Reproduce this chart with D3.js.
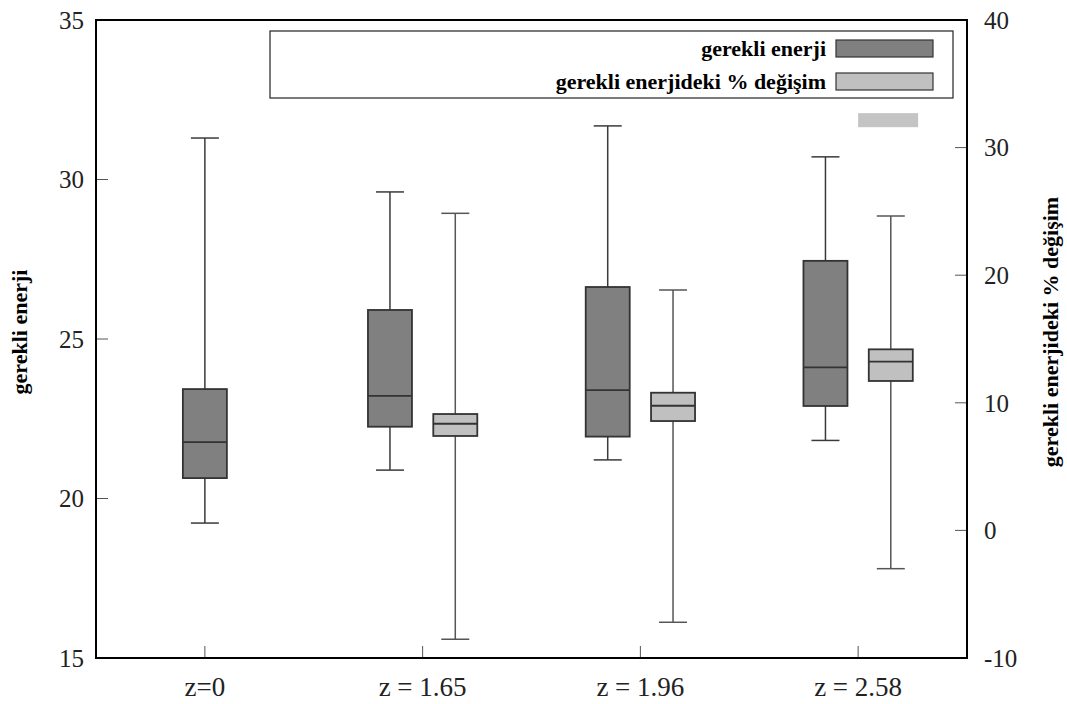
<!DOCTYPE html>
<html>
<head>
<meta charset="utf-8">
<script src="https://cdn.jsdelivr.net/npm/d3@7/dist/d3.min.js"></script>
<style>
  body { margin: 0; background: #fff; }
  svg text { font-family: "Liberation Serif", "Times New Roman", serif; }
</style>
</head>
<body>
<div id="chart"></div>
<script>
// categories on the x axis
const categories = ['z=0', 'z = 1.65', 'z = 1.96', 'z = 2.58'];

// "gerekli enerji" (left axis)
const energyLow    = [19.23, 20.89, 21.21, 21.82];
const energyQ1     = [20.64, 22.25, 21.94, 22.90];
const energyMedian = [21.77, 23.22, 23.40, 24.11];
const energyQ3     = [23.43, 25.91, 26.63, 27.45];
const energyHigh   = [31.30, 29.61, 31.68, 30.71];

// "gerekli enerjideki % değişim" (right axis), none for z=0
const changeLow    = [null, -8.53, -7.20, -3.00];
const changeQ1     = [null,  7.40,  8.57, 11.71];
const changeMedian = [null,  8.36,  9.77, 13.22];
const changeQ3     = [null,  9.12, 10.79, 14.19];
const changeHigh   = [null, 24.85, 18.84, 24.64];

// tick labels
const leftTicks  = [15, 20, 25, 30, 35];
const rightTicks = [-10, 0, 10, 20, 30, 40];

// stray light swatch seen under the legend (right axis units)
const strayMark = { cat: 'z = 2.58', top: 32.7, bottom: 31.6 };

const width = 1067, height = 704;
const margin = { top: 20, right: 100, bottom: 46, left: 96 };

const svg = d3.select('#chart')
    .append('svg')
    .attr('width', width)
    .attr('height', height);

const x = d3.scaleBand()
    .domain(categories)
    .range([margin.left, width - margin.right])
    .padding(0);

const yLeft = d3.scaleLinear()
    .domain([15, 35])
    .range([height - margin.bottom, margin.top]);

const yRight = d3.scaleLinear()
    .domain([-10, 40])
    .range([height - margin.bottom, margin.top]);

const center = c => x(c) + x.bandwidth() / 2;
const offset = x.bandwidth() * 0.15;
const boxW = 44, capW = 28;

// build box stats from the arrays
const energy = categories.map((c, i) => ({
    cat: c, low: energyLow[i], q1: energyQ1[i], med: energyMedian[i],
    q3: energyQ3[i], high: energyHigh[i]
}));
const change = categories.map((c, i) => ({
    cat: c, low: changeLow[i], q1: changeQ1[i], med: changeMedian[i],
    q3: changeQ3[i], high: changeHigh[i]
})).filter(d => d.med !== null);

function drawBoxes(data, y, cx, fill, stroke) {
    const g = svg.append('g');
    const b = g.selectAll('g').data(data).enter().append('g');

    b.append('line')
        .attr('x1', d => cx(d)).attr('x2', d => cx(d))
        .attr('y1', d => y(d.high)).attr('y2', d => y(d.q3))
        .style('stroke', stroke).style('stroke-width', 1.5);
    b.append('line')
        .attr('x1', d => cx(d)).attr('x2', d => cx(d))
        .attr('y1', d => y(d.q1)).attr('y2', d => y(d.low))
        .style('stroke', stroke).style('stroke-width', 1.5);
    ['high', 'low'].forEach(k => {
        b.append('line')
            .attr('x1', d => cx(d) - capW / 2).attr('x2', d => cx(d) + capW / 2)
            .attr('y1', d => y(d[k])).attr('y2', d => y(d[k]))
            .style('stroke', stroke).style('stroke-width', 1.5);
    });
    b.append('rect')
        .attr('x', d => cx(d) - boxW / 2)
        .attr('y', d => y(d.q3))
        .attr('width', boxW)
        .attr('height', d => y(d.q1) - y(d.q3))
        .style('fill', fill)
        .style('stroke', '#333')
        .style('stroke-width', 1.8);
    b.append('line')
        .attr('x1', d => cx(d) - boxW / 2).attr('x2', d => cx(d) + boxW / 2)
        .attr('y1', d => y(d.med)).attr('y2', d => y(d.med))
        .style('stroke', '#333').style('stroke-width', 1.8);
}

// x ticks (inside, from the bottom)
svg.append('g').selectAll('line').data(categories).enter().append('line')
    .attr('x1', d => center(d)).attr('x2', d => center(d))
    .attr('y1', height - margin.bottom).attr('y2', height - margin.bottom - 12)
    .style('stroke', '#555').style('stroke-width', 1);

// left ticks
svg.append('g').selectAll('line').data(leftTicks).enter().append('line')
    .attr('x1', margin.left).attr('x2', margin.left + 12)
    .attr('y1', d => yLeft(d)).attr('y2', d => yLeft(d))
    .style('stroke', '#555').style('stroke-width', 1);

// right ticks
svg.append('g').selectAll('line').data(rightTicks).enter().append('line')
    .attr('x1', width - margin.right - 12).attr('x2', width - margin.right)
    .attr('y1', d => yRight(d)).attr('y2', d => yRight(d))
    .style('stroke', '#555').style('stroke-width', 1);

drawBoxes(energy, yLeft, d => center(d.cat) - (d.cat === 'z=0' ? 0 : offset), '#808080', '#3a3a3a');
drawBoxes(change, yRight, d => center(d.cat) + offset, '#c0c0c0', '#555');

// stray swatch
svg.append('rect')
    .attr('x', center(strayMark.cat))
    .attr('y', yRight(strayMark.top))
    .attr('width', 60)
    .attr('height', yRight(strayMark.bottom) - yRight(strayMark.top))
    .style('fill', '#c4c4c4');

// frame
svg.append('rect')
    .attr('x', margin.left).attr('y', margin.top)
    .attr('width', width - margin.left - margin.right)
    .attr('height', height - margin.top - margin.bottom)
    .style('fill', 'none').style('stroke', '#000').style('stroke-width', 2);

// tick labels
svg.append('g').selectAll('text').data(leftTicks).enter().append('text')
    .attr('x', margin.left - 12).attr('y', d => yLeft(d))
    .attr('dy', '0.35em').attr('text-anchor', 'end')
    .style('font-size', '25px').style('fill', '#222')
    .text(d => d);

svg.append('g').selectAll('text').data(rightTicks).enter().append('text')
    .attr('x', width - margin.right + 17).attr('y', d => yRight(d))
    .attr('dy', '0.35em').attr('text-anchor', 'start')
    .style('font-size', '25px').style('fill', '#222')
    .text(d => d);

svg.append('g').selectAll('text').data(categories).enter().append('text')
    .attr('x', d => center(d)).attr('y', height - 8)
    .attr('text-anchor', 'middle')
    .style('font-size', '27px').style('fill', '#222')
    .text(d => d);

// axis titles
svg.append('text')
    .attr('transform', 'translate(27, 332) rotate(-90)')
    .attr('text-anchor', 'middle')
    .style('font-size', '22px').style('font-weight', 'bold')
    .text('gerekli enerji');

svg.append('text')
    .attr('transform', 'translate(1058, 332) rotate(-90)')
    .attr('text-anchor', 'middle')
    .style('font-size', '22px').style('font-weight', 'bold')
    .text('gerekli enerjideki % değişim');

// legend
const legend = svg.append('g');
legend.append('rect')
    .attr('x', 270).attr('y', 31).attr('width', 683).attr('height', 67)
    .style('fill', '#fff').style('stroke', '#222').style('stroke-width', 1.2);

const legendItems = [
    { label: 'gerekli enerji', fill: '#808080' },
    { label: 'gerekli enerjideki % değişim', fill: '#c0c0c0' }
];
legendItems.forEach((item, i) => {
    const yy = 48 + i * 33;
    legend.append('rect')
        .attr('x', 836).attr('y', yy - 8).attr('width', 97).attr('height', 17)
        .style('fill', item.fill).style('stroke', '#333').style('stroke-width', 1.2);
    legend.append('text')
        .attr('x', 826).attr('y', yy).attr('dy', '0.35em')
        .attr('text-anchor', 'end')
        .style('font-size', '22px').style('font-weight', 'bold')
        .text(item.label);
});
</script>
</body>
</html>
